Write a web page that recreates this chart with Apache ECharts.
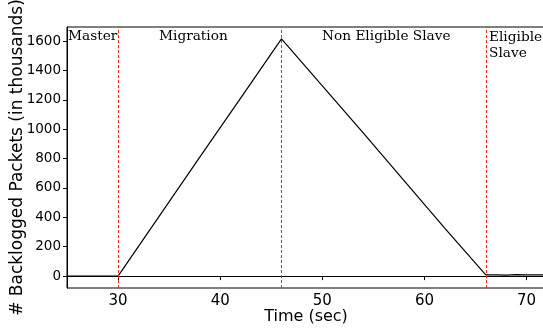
<!DOCTYPE html>
<html>
<head>
<meta charset="utf-8">
<script src="https://cdn.jsdelivr.net/npm/echarts@6/dist/echarts.min.js"></script>
<style>
  html, body { margin: 0; padding: 0; background: #fff; }
  #chart { width: 543px; height: 332px; }
</style>
</head>
<body>
<div id="chart"></div>
<script>
  // backlog readings (time in sec, packets in thousands)
  const times = [25, 30, 34, 38, 42, 46, 50, 54, 58, 62, 66, 67, 68, 69, 70, 71, 72]
  const backlog = [0, 0, 405, 810, 1212, 1615, 1295, 975, 650, 325, 8, 9, 7, 10, 8, 9, 8]
  const phaseLines = [30, 46, 66]
  const xTicks = [30, 40, 50, 60, 70]
  const yTicks = [0, 200, 400, 600, 800, 1000, 1200, 1400, 1600]

  const chart = echarts.init(document.getElementById('chart'))
  const sans = 'DejaVu Sans'
  const noteFont = '13.7px "DejaVu Serif"'

  const option = {
    animation: false,
    grid: {
      left: 67, right: -2, top: 27, bottom: 44,
      containLabel: false,
      outerBoundsMode: 'none',
      show: true, borderColor: '#000', borderWidth: 1
    },
    xAxis: {
      type: 'value',
      min: 25, max: 71.8,
      name: 'Time (sec)',
      nameLocation: 'middle',
      nameGap: 21,
      nameMoveOverlap: false,
      nameTextStyle: { fontFamily: sans, fontSize: 16, color: '#000' },
      splitLine: { show: false },
      axisLine: { lineStyle: { color: '#000' } },
      axisTick: { show: true, length: 4, lineStyle: { color: '#000' }, customValues: xTicks },
      axisLabel: { fontFamily: sans, fontSize: 15, color: '#000', margin: 6, customValues: xTicks }
    },
    yAxis: {
      type: 'value',
      min: -81, max: 1696,
      name: '# Backlogged Packets (in thousands)',
      nameLocation: 'middle',
      nameGap: 41,
      nameMoveOverlap: false,
      nameTextStyle: { fontFamily: sans, fontSize: 17, color: '#000' },
      splitLine: { show: false },
      axisLine: { lineStyle: { color: '#000' } },
      axisTick: { show: true, length: 4, lineStyle: { color: '#000' }, customValues: yTicks },
      axisLabel: {
        fontFamily: sans, fontSize: 13.5, color: '#000', margin: 6, customValues: yTicks,
        formatter: v => String(v)
      }
    },
    series: [{
      type: 'line',
      data: times.map((t, i) => [t, backlog[i]]),
      showSymbol: false,
      lineStyle: { color: '#000', width: 1.2 },
      markLine: {
        silent: true,
        symbol: 'none',
        label: { show: false },
        data: phaseLines.map(x => ({
          xAxis: x,
          lineStyle: { color: '#ff2020', type: [3, 2], width: 1 }
        }))
      }
    }],
    graphic: [
      { type: 'text', left: 68, top: 29, style: { text: 'Master', font: noteFont, fill: '#000' } },
      { type: 'text', left: 159, top: 29, style: { text: 'Migration', font: noteFont, fill: '#000' } },
      { type: 'text', left: 322, top: 29, style: { text: 'Non Eligible Slave', font: noteFont, fill: '#000' } },
      { type: 'text', left: 489, top: 29, style: { text: 'Eligible\nSlave', font: noteFont, fill: '#000', lineHeight: 16 } }
    ]
  }
  chart.setOption(option)
</script>
</body>
</html>
